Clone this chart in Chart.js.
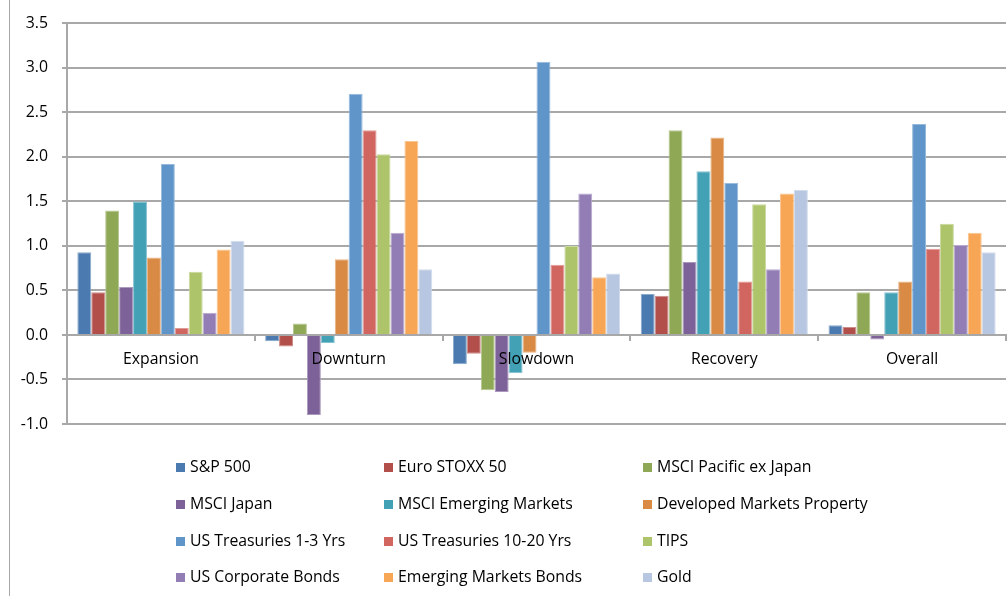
<!DOCTYPE html>
<html>
<head>
<meta charset="utf-8">
<script src="https://cdn.jsdelivr.net/npm/chart.js@4"></script>
<style>
  html, body { margin: 0; padding: 0; background: #fff; }
  #wrap { position: relative; width: 1007px; height: 596px; overflow: hidden; }
  #edge { position: absolute; left: 9px; top: 0; width: 1px; height: 596px; background: #a6a6a6; }
  canvas { position: absolute; left: 0; top: 0; }
  #legend { position: absolute; left: 0; top: 0; font-family: "Open Sans", Lato, sans-serif; font-size: 15.8px; color: #000; }
  .item { position: absolute; white-space: nowrap; line-height: 18px; }
  .sw { display: inline-block; width: 9px; height: 9px; margin-right: 5px; vertical-align: 0px; }
</style>
</head>
<body>
<div id="wrap">
  <div id="edge"></div>
  <canvas id="c" width="1007" height="596"></canvas>
  <div id="legend"></div>
</div>
<script>
// Phases of the cycle along the category axis
const phases = ['Expansion', 'Downturn', 'Slowdown', 'Recovery', 'Overall'];

// Asset classes, one bar series each
const assets = [
  'S&P 500', 'Euro STOXX 50', 'MSCI Pacific ex Japan',
  'MSCI Japan', 'MSCI Emerging Markets', 'Developed Markets Property',
  'US Treasuries 1-3 Yrs', 'US Treasuries 10-20 Yrs', 'TIPS',
  'US Corporate Bonds', 'Emerging Markets Bonds', 'Gold'
];

// Values per asset, in phase order
const sp500      = [0.93, -0.07, -0.33, 0.46, 0.11];
const euroStoxx  = [0.48, -0.13, -0.21, 0.44, 0.09];
const pacific    = [1.40,  0.13, -0.62, 2.30, 0.48];
const japan      = [0.54, -0.90, -0.64, 0.82, -0.05];
const emerging   = [1.50, -0.09, -0.43, 1.84, 0.48];
const property   = [0.87,  0.85, -0.20, 2.22, 0.60];
const ust13      = [1.92,  2.71,  3.07, 1.71, 2.37];
const ust1020    = [0.08,  2.30,  0.79, 0.60, 0.97];
const tips       = [0.71,  2.03,  1.00, 1.47, 1.25];
const corporate  = [0.25,  1.15,  1.59, 0.74, 1.01];
const emBonds    = [0.96,  2.18,  0.65, 1.59, 1.15];
const gold       = [1.06,  0.74,  0.69, 1.63, 0.93];

// Value axis ticks
const yTicks = [-1.0, -0.5, 0.0, 0.5, 1.0, 1.5, 2.0, 2.5, 3.0, 3.5];

const series = [sp500, euroStoxx, pacific, japan, emerging, property,
                ust13, ust1020, tips, corporate, emBonds, gold];
const colors = ['#4a7aaf', '#b24f4b', '#8fa856', '#7c6298', '#43a1b6', '#d98b45',
                '#5f95c9', '#d1655f', '#adc46a', '#937db5', '#f7a656', '#b8c7e1'];

function tint(hex, f) {
  const n = parseInt(hex.slice(1), 16);
  const r = (n >> 16) & 255, g = (n >> 8) & 255, b = n & 255;
  const m = v => Math.round(v + (255 - v) * f);
  return `rgb(${m(r)},${m(g)},${m(b)})`;
}

const gridColor = '#a8a8a8';
const font = { family: '"Open Sans", Lato, sans-serif', size: 15.8 };

new Chart(document.getElementById('c'), {
  type: 'bar',
  data: {
    labels: phases,
    datasets: assets.map((name, i) => ({
      label: name,
      data: series[i],
      backgroundColor: colors[i],
      borderColor: tint(colors[i], 0.35),
      borderWidth: 1,
      categoryPercentage: 0.89,
      barPercentage: 1.0
    }))
  },
  options: {
    responsive: false,
    animation: false,
    layout: { padding: { top: 23, left: 10, right: 1, bottom: 172 } },
    plugins: { legend: { display: false }, tooltip: { enabled: false } },
    scales: {
      x: {
        position: { y: 0 },
        grid: { drawOnChartArea: false, drawTicks: true, tickLength: 5, color: gridColor, lineWidth: 2, z: 1 },
        border: { display: true, color: gridColor, width: 2, z: 1 },
        // category names sit on top of the bars that cross the zero line
        ticks: { color: '#000', font: font, padding: 10, maxRotation: 0, z: 2 }
      },
      y: {
        min: -1.0,
        max: 3.5,
        afterFit: s => { s.width = 57; },
        afterBuildTicks: s => { s.ticks = yTicks.map(v => ({ value: v })); },
        grid: { color: gridColor, lineWidth: 2, drawTicks: true, tickLength: 5 },
        border: { display: true, color: gridColor, width: 2 },
        ticks: { color: '#000', font: font, padding: 14, callback: v => v.toFixed(1) }
      }
    }
  }
});

// Three-column legend under the plot
const legend = document.getElementById('legend');
const colX = [176, 384, 643];
const rowY = [466, 503, 540, 576];
assets.forEach((name, i) => {
  const el = document.createElement('div');
  el.className = 'item';
  el.style.left = colX[i % 3] + 'px';
  el.style.top = (rowY[Math.floor(i / 3)] - 9) + 'px';
  const sw = document.createElement('span');
  sw.className = 'sw';
  sw.style.background = colors[i];
  el.appendChild(sw);
  el.appendChild(document.createTextNode(name));
  legend.appendChild(el);
});
</script>
</body>
</html>
